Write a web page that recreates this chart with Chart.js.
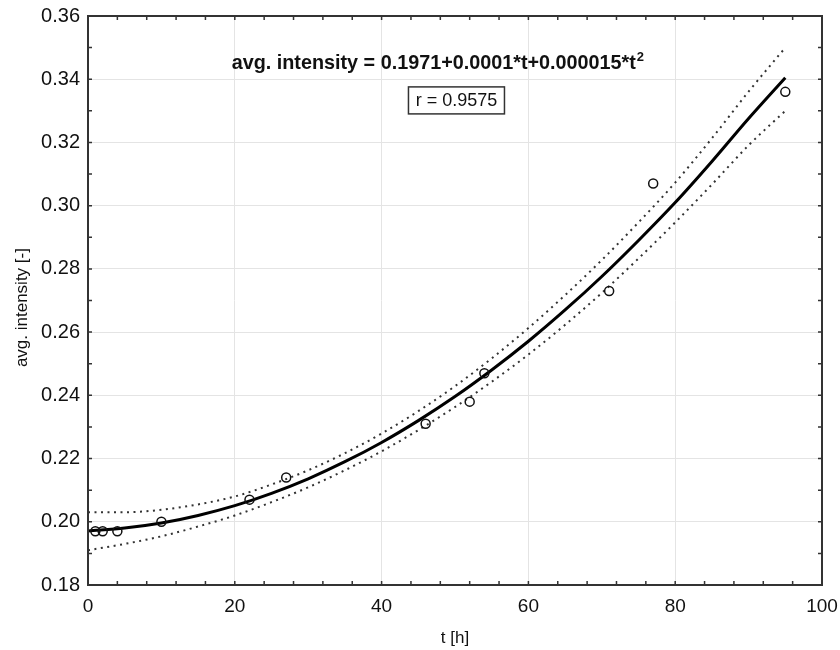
<!DOCTYPE html>
<html>
<head>
<meta charset="utf-8">
<script src="https://cdn.jsdelivr.net/npm/chart.js@4"></script>
<style>
  body { margin: 0; background: #fff; }
  canvas { display: block; }
</style>
</head>
<body>
<canvas id="chart" width="840" height="650"></canvas>
<script>
// measured points
const obsT = [1, 2, 4, 10, 22, 27, 46, 52, 54, 71, 77, 95];
const obsY = [0.197, 0.197, 0.197, 0.200, 0.207, 0.214, 0.231, 0.238, 0.247, 0.273, 0.307, 0.336];

const fitT = [0, 5, 10, 15, 20, 25, 30, 35, 40, 45, 50, 55, 60, 65, 70, 75, 80, 85, 90, 95];
const fitY = [0.1971, 0.1980, 0.1996, 0.2020, 0.2051, 0.2090, 0.2136, 0.2190, 0.2251, 0.2320,
              0.2396, 0.2480, 0.2571, 0.2670, 0.2776, 0.2890, 0.3010, 0.3140, 0.3276, 0.3405];
const upperY = [0.2030, 0.2030, 0.2038, 0.2055, 0.2080, 0.2118, 0.2163, 0.2217, 0.2279, 0.2350,
                0.2429, 0.2517, 0.2613, 0.2717, 0.2828, 0.2947, 0.3073, 0.3213, 0.3361, 0.3500];
const lowerY = [0.1910, 0.1930, 0.1954, 0.1985, 0.2020, 0.2062, 0.2109, 0.2163, 0.2223, 0.2290,
                0.2363, 0.2443, 0.2529, 0.2623, 0.2724, 0.2833, 0.2947, 0.3067, 0.3191, 0.3300];

const xTicks = [0, 20, 40, 60, 80, 100];
const yTicks = ['0.18', '0.20', '0.22', '0.24', '0.26', '0.28', '0.30', '0.32', '0.34', '0.36'];

const equation = 'avg. intensity = 0.1971+0.0001*t+0.000015*t';
const rText = 'r = 0.9575';

const FONT = '"Liberation Sans", Arial, Helvetica, sans-serif';
const pts = (xs, ys) => xs.map((x, i) => ({ x, y: ys[i] }));

// inward minor ticks on all four sides, frame, equation and r box
const decor = {
  id: 'decor',
  afterDatasetsDraw(chart) {
    const { ctx, chartArea: a, scales: { x, y } } = chart;
    ctx.save();
    ctx.strokeStyle = '#333';
    ctx.lineWidth = 1.5;
    ctx.beginPath();
    for (let i = 0; i <= 25; i++) {
      const px = x.getPixelForValue(i * 4);
      ctx.moveTo(px, a.bottom); ctx.lineTo(px, a.bottom - 4);
      ctx.moveTo(px, a.top); ctx.lineTo(px, a.top + 4);
    }
    for (let i = 0; i <= 18; i++) {
      const py = y.getPixelForValue(0.18 + i * 0.01);
      ctx.moveTo(a.left, py); ctx.lineTo(a.left + 4, py);
      ctx.moveTo(a.right, py); ctx.lineTo(a.right - 4, py);
    }
    ctx.stroke();
    ctx.lineWidth = 2;
    ctx.strokeRect(a.left, a.top, a.right - a.left, a.bottom - a.top);

    // equation
    ctx.fillStyle = '#111';
    ctx.font = 'bold 19.8px ' + FONT;
    ctx.textBaseline = 'alphabetic';
    const w = ctx.measureText(equation).width;
    ctx.font = 'bold 13px ' + FONT;
    const ws = ctx.measureText('2').width;
    const cx = x.getPixelForValue(47.6);
    const by = y.getPixelForValue(0.3455) + 7;
    const left = cx - (w + ws) / 2;
    ctx.font = 'bold 19.8px ' + FONT;
    ctx.textAlign = 'left';
    ctx.fillText(equation, left, by);
    ctx.font = 'bold 13px ' + FONT;
    ctx.fillText('2', left + w + 1, by - 8);

    // r box
    const rx = x.getPixelForValue(50.2);
    const ry = y.getPixelForValue(0.3333);
    ctx.lineWidth = 1.5;
    ctx.strokeRect(rx - 48, ry - 13.5, 96, 27);
    ctx.font = '18px ' + FONT;
    ctx.textAlign = 'center';
    ctx.textBaseline = 'middle';
    ctx.fillText(rText, rx, ry + 1);
    ctx.restore();
  }
};

new Chart(document.getElementById('chart'), {
  type: 'scatter',
  data: {
    datasets: [
      {
        label: 'data',
        data: pts(obsT, obsY),
        showLine: false,
        pointStyle: 'circle',
        pointRadius: 4.5,
        pointBorderWidth: 1.5,
        pointBorderColor: '#111',
        pointBackgroundColor: 'rgba(0,0,0,0)',
        order: 0
      },
      {
        label: 'fit',
        data: pts(fitT, fitY),
        showLine: true,
        borderColor: '#000',
        borderWidth: 3,
        pointRadius: 0,
        cubicInterpolationMode: 'monotone',
        order: 1
      },
      {
        label: 'upper',
        data: pts(fitT, upperY),
        showLine: true,
        borderColor: '#333',
        borderWidth: 2,
        borderDash: [2, 4.5],
        pointRadius: 0,
        cubicInterpolationMode: 'monotone',
        order: 2
      },
      {
        label: 'lower',
        data: pts(fitT, lowerY),
        showLine: true,
        borderColor: '#333',
        borderWidth: 2,
        borderDash: [2, 4.5],
        pointRadius: 0,
        cubicInterpolationMode: 'monotone',
        order: 2
      }
    ]
  },
  options: {
    responsive: false,
    animation: false,
    layout: { autoPadding: false, padding: { top: 16, right: 18, left: 0, bottom: 0 } },
    plugins: { legend: { display: false }, tooltip: { enabled: false } },
    scales: {
      x: {
        type: 'linear', min: 0, max: 100,
        afterFit: s => { s.height = 65; s.paddingLeft = 0; s.paddingRight = 0; },
        afterBuildTicks: s => { s.ticks = xTicks.map(v => ({ value: v })); },
        grid: { color: '#e4e4e4', lineWidth: 1, drawTicks: false },
        border: { display: false },
        ticks: { color: '#111', padding: 10, font: { family: FONT, size: 19 }, callback: v => String(v) },
        title: { display: true, text: 't [h]', color: '#111', padding: { top: 0, bottom: 1 }, font: { family: FONT, size: 17 } }
      },
      y: {
        type: 'linear', min: 0.18, max: 0.36,
        afterFit: s => { s.width = 88; s.paddingTop = 0; s.paddingBottom = 0; },
        afterBuildTicks: s => { s.ticks = yTicks.map(v => ({ value: +v })); },
        grid: { color: '#e4e4e4', lineWidth: 1, drawTicks: false },
        border: { display: false },
        ticks: { color: '#111', padding: 8, font: { family: FONT, size: 20 }, callback: v => v.toFixed(2) },
        title: { display: true, text: 'avg. intensity [-]   ', color: '#111', padding: { top: 12, bottom: 0 }, font: { family: FONT, size: 17 } }
      }
    }
  },
  plugins: [decor]
});
</script>
</body>
</html>
